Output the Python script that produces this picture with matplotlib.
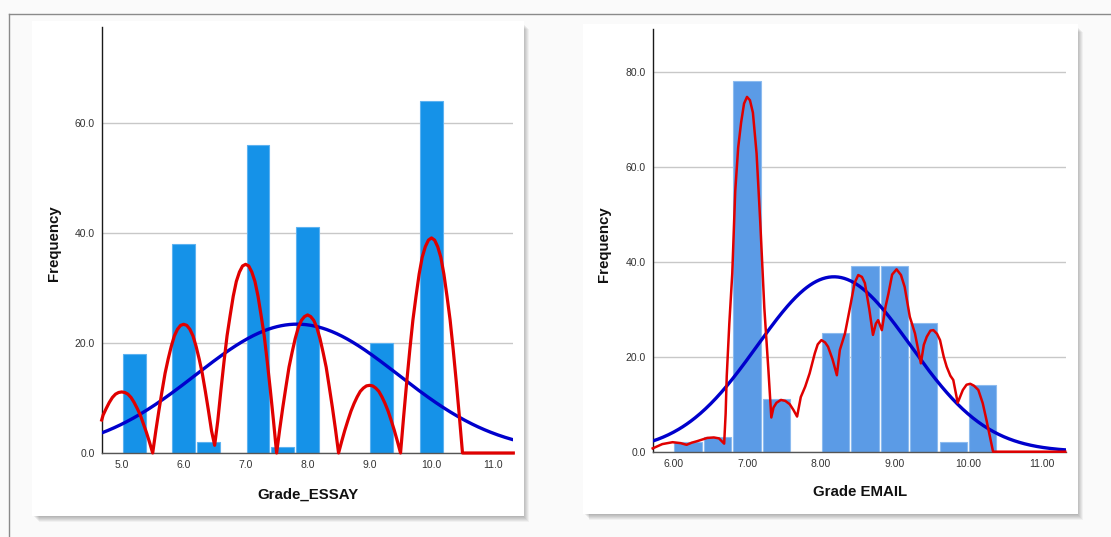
import numpy as np
import matplotlib
matplotlib.use("Agg")
import matplotlib.pyplot as plt
from matplotlib.patches import Rectangle
from matplotlib.lines import Line2D

# ---------------- data ----------------
n_total = 240
bin_width = 0.4

essay_bin_left = [5.0, 5.8, 6.2, 7.0, 7.4, 7.8, 9.0, 9.8]
essay_counts = [18, 38, 2, 56, 1, 41, 20, 64]
essay_mean = 7.83
essay_sd = 1.635
essay_xticks = [5.0, 6.0, 7.0, 8.0, 9.0, 10.0, 11.0]
essay_xtick_labels = ["5.0", "6.0", "7.0", "8.0", "9.0", "10.0", "11.0"]
essay_yticks = [0, 20, 40, 60]
essay_ytick_labels = ["0.0", "20.0", "40.0", "60.0"]
essay_red_x = [4.677, 4.70, 4.75, 4.80, 4.85, 4.90, 4.95, 5.00, 5.05, 5.10,
               5.15, 5.20, 5.25, 5.30, 5.35, 5.40, 5.45, 5.50, 5.55, 5.60,
               5.65, 5.70, 5.75, 5.80, 5.85, 5.90, 5.95, 6.00, 6.05, 6.10,
               6.15, 6.20, 6.25, 6.30, 6.35, 6.40, 6.45, 6.50, 6.55, 6.60,
               6.65, 6.70, 6.75, 6.80, 6.85, 6.90, 6.95, 7.00, 7.05, 7.10,
               7.15, 7.20, 7.25, 7.30, 7.35, 7.40, 7.45, 7.50, 7.55, 7.60,
               7.65, 7.70, 7.75, 7.80, 7.85, 7.90, 7.95, 8.00, 8.05, 8.10,
               8.15, 8.20, 8.25, 8.30, 8.35, 8.40, 8.45, 8.50, 8.55, 8.60,
               8.65, 8.70, 8.75, 8.80, 8.85, 8.90, 8.95, 9.00, 9.05, 9.10,
               9.15, 9.20, 9.25, 9.30, 9.35, 9.40, 9.45, 9.50, 9.55, 9.60,
               9.65, 9.70, 9.75, 9.80, 9.85, 9.90, 9.95, 10.00, 10.05, 10.10,
               10.15, 10.20, 10.25, 10.30, 10.35, 10.40, 10.45, 10.50, 11.32]
essay_red_y = [6.0, 6.9, 8.1, 9.2, 10.1, 10.7, 11.0, 11.1, 11.0, 10.7,
               10.1, 9.2, 8.1, 6.9, 5.3, 3.7, 1.9, 0.0, 4.0, 7.7,
               11.2, 14.5, 17.1, 19.4, 21.3, 22.5, 23.2, 23.4, 23.2, 22.5,
               21.3, 19.4, 17.1, 14.5, 11.2, 7.7, 4.0, 1.4, 5.8, 11.3,
               16.5, 21.3, 25.0, 28.5, 31.2, 32.9, 34.0, 34.3, 34.0, 32.9,
               31.2, 28.5, 25.0, 21.3, 16.5, 11.3, 5.8, 0.0, 4.3, 8.3,
               12.0, 15.6, 18.3, 20.8, 22.8, 24.1, 24.8, 25.1, 24.8, 24.1,
               22.8, 20.8, 18.3, 15.6, 12.0, 8.3, 4.3, 0.0, 2.1, 4.1,
               5.9, 7.6, 9.0, 10.2, 11.2, 11.8, 12.2, 12.3, 12.2, 11.8,
               11.2, 10.2, 9.0, 7.6, 5.9, 4.1, 2.1, 0.0, 6.6, 12.9,
               18.8, 24.2, 28.5, 32.5, 35.6, 37.5, 38.7, 39.1, 38.7, 37.5,
               35.6, 32.5, 28.5, 24.2, 18.8, 12.9, 6.6, 0.0, 0.0]

email_bin_left = [6.0, 6.4, 6.8, 7.2, 8.0, 8.4, 8.8, 9.2, 9.6, 10.0]
email_counts = [2, 3, 78, 11, 25, 39, 39, 27, 2, 14]
email_mean = 8.18
email_sd = 1.04
email_xticks = [6.0, 7.0, 8.0, 9.0, 10.0, 11.0]
email_xtick_labels = ["6.00", "7.00", "8.00", "9.00", "10.00", "11.00"]
email_yticks = [0, 20, 40, 60, 80]
email_ytick_labels = ["0.0", "20.0", "40.0", "60.0", "80.0"]
email_red_x = [5.72, 5.85, 5.99, 6.10, 6.18, 6.25, 6.32, 6.46, 6.55, 6.62,
               6.69, 6.71, 6.725, 6.76, 6.80, 6.84, 6.88, 6.92, 6.96, 7.00,
               7.04, 7.08, 7.13, 7.18, 7.235, 7.29, 7.33, 7.36, 7.40, 7.46,
               7.52, 7.58, 7.63, 7.68, 7.73, 7.79, 7.85, 7.92, 7.96, 8.01,
               8.06, 8.10, 8.16, 8.22, 8.26, 8.33, 8.40, 8.46, 8.51, 8.56,
               8.60, 8.66, 8.71, 8.75, 8.78, 8.83, 8.88, 8.92, 8.97, 9.03,
               9.09, 9.14, 9.21, 9.28, 9.36, 9.40, 9.44, 9.49, 9.53, 9.58,
               9.62, 9.67, 9.71, 9.76, 9.80, 9.86, 9.93, 9.98, 10.03, 10.08,
               10.14, 10.20, 10.25, 10.34, 11.32]
email_red_y = [0.7, 1.6, 2.0, 1.8, 1.45, 1.9, 2.2, 2.9, 3.0, 2.8,
               1.7, 8.0, 15.9, 27.0, 37.5, 54.8, 64.0, 69.3, 73.3, 74.7,
               74.0, 71.4, 62.8, 48.3, 30.3, 17.3, 7.2, 9.3, 10.3, 10.9,
               10.7, 10.0, 8.8, 7.4, 11.5, 13.7, 16.5, 20.7, 22.6, 23.5,
               23.0, 22.1, 19.5, 16.1, 21.4, 24.9, 30.5, 35.5, 37.2, 36.8,
               35.5, 30.0, 24.6, 27.0, 27.7, 25.6, 30.5, 33.3, 37.3, 38.4,
               37.2, 34.7, 28.4, 24.9, 18.6, 22.5, 24.2, 25.5, 25.6, 24.8,
               23.5, 20.0, 17.9, 16.0, 15.1, 10.3, 13.0, 14.1, 14.3, 13.9,
               13.0, 10.2, 6.7, 0.0, 0.0]

# ---------------- figure ----------------
W, H = 1111, 537
fig = plt.figure(figsize=(W / 100, H / 100), dpi=100, facecolor="#fafafa")
FONT = "Liberation Sans"


def fx(px):
    return px / W


def fy(py):
    return 1 - py / H


def panel(x0, y0, x1, y1):
    # soft drop shadow
    for i, a in enumerate([0.05, 0.05, 0.05, 0.05, 0.05, 0.04]):
        off = 1 + i
        fig.patches.append(Rectangle((fx(x0 + off + 1), fy(y1 + off)),
                                     fx(x1 - x0 - 2), (y1 - y0 - 2) / H,
                                     transform=fig.transFigure, facecolor="black",
                                     edgecolor="none", alpha=a, zorder=0))
    fig.patches.append(Rectangle((fx(x0), fy(y1)), fx(x1 - x0), (y1 - y0) / H,
                                 transform=fig.transFigure, facecolor="white",
                                 edgecolor="none", zorder=1))


# frame lines of the screenshot
fig.add_artist(Line2D([fx(8.6), 1], [fy(14), fy(14)], color="#8a8a8a", lw=1.0))
fig.add_artist(Line2D([fx(8.6), fx(8.6)], [fy(14), 0], color="#8a8a8a", lw=1.0))

panel(32, 21, 524, 516)
panel(582.5, 24, 1077.5, 513.5)


def make_axes(rect_px, xlim, ylim, bin_left, counts, bar_color, bar_edge,
              mean, sd, red_x, red_y, red_lw, xticks, xlabels, yticks, ylabels):
    x0, y0, x1, y1 = rect_px
    ax = fig.add_axes([fx(x0), fy(y1), fx(x1 - x0), (y1 - y0) / H])
    ax.set_zorder(2)
    ax.patch.set_alpha(0)
    ax.set_xlim(*xlim)
    ax.set_ylim(*ylim)
    inset = 0.015
    ax.bar(np.array(bin_left) + inset, counts, width=bin_width - 2 * inset,
           align="edge", color=bar_color, edgecolor=bar_edge, linewidth=0.8, zorder=2)
    xs = np.linspace(xlim[0], xlim[1], 400)
    ys = n_total * bin_width * np.exp(-0.5 * ((xs - mean) / sd) ** 2) / (sd * np.sqrt(2 * np.pi))
    ax.plot(xs, ys, color="#0000cc", lw=2.4, zorder=3, solid_capstyle="butt")
    ax.plot(red_x, red_y, color="#e00000", lw=red_lw, zorder=4, clip_on=False,
            solid_joinstyle="round")
    ax.set_xticks(xticks)
    ax.set_xticklabels(xlabels)
    ax.set_yticks(yticks)
    ax.set_yticklabels(ylabels)
    ax.tick_params(length=0, labelsize=7.5, labelcolor="#333333", pad=5)
    for lab in ax.get_xticklabels() + ax.get_yticklabels():
        lab.set_fontfamily(FONT)
    ax.yaxis.grid(True, color="#c8c8c8", lw=1.0)
    ax.set_axisbelow(True)
    for s in ["top", "right"]:
        ax.spines[s].set_visible(False)
    ax.spines["left"].set_color("#1a1a1a")
    ax.spines["bottom"].set_color("#555555")
    ax.spines["left"].set_linewidth(1.0)
    ax.spines["bottom"].set_linewidth(1.0)
    return ax


make_axes((101.7, 26.7, 513.3, 453.0), (4.677, 11.32), (0, 77.5),
          essay_bin_left, essay_counts, "#1592e8", "#5db2f0",
          essay_mean, essay_sd, essay_red_x, essay_red_y, 2.3,
          essay_xticks, essay_xtick_labels, essay_yticks, essay_ytick_labels)

make_axes((652.7, 29.0, 1066.0, 451.7), (5.72, 11.33), (0, 89),
          email_bin_left, email_counts, "#5b9be6", "#8cbbef",
          email_mean, email_sd, email_red_x, email_red_y, 1.8,
          email_xticks, email_xtick_labels, email_yticks, email_ytick_labels)

# axis titles
title_kw = dict(fontsize=10.8, family=FONT, fontweight="bold", color="#111111")
fig.text(fx(53.5), fy(242.7), "Frequency", rotation=90, ha="center", va="center", **title_kw)
fig.text(fx(307.8), fy(494.5), "Grade_ESSAY", ha="center", va="center", **title_kw)
fig.text(fx(604.5), fy(244), "Frequency", rotation=90, ha="center", va="center", **title_kw)
fig.text(fx(859.9), fy(492.5), "Grade EMAIL", ha="center", va="center", **title_kw)

fig.savefig("out.png", dpi=100, facecolor=fig.get_facecolor())
